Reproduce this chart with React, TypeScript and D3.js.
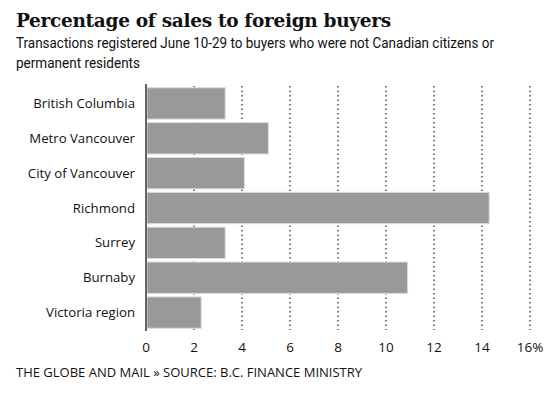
import React from "react";
import * as d3 from "d3";

const categories = [
  "British Columbia",
  "Metro Vancouver",
  "City of Vancouver",
  "Richmond",
  "Surrey",
  "Burnaby",
  "Victoria region",
];
const values = [3.3, 5.1, 4.1, 14.3, 3.3, 10.9, 2.3];
const ticks = [0, 2, 4, 6, 8, 10, 12, 14, 16];

const W = 560;
const H = 398;
const M = { left: 146, right: 30, top: 86, bottom: 70 };

const sans = "'Open Sans', 'Noto Sans', sans-serif";
const narrow = "'Roboto', sans-serif";

export default function App() {
  const x = d3.scaleLinear().domain([0, 16]).range([M.left, 530]);
  const y = d3
    .scaleBand<string>()
    .domain(categories)
    .range([86, 330])
    .paddingInner(0.1)
    .paddingOuter(0.05);

  return (
    <svg
      width={W}
      height={H}
      style={{ position: "absolute", left: 0, top: 0, background: "#fff" }}
    >
      <text
        x={16}
        y={27}
        fontFamily="'DejaVu Serif', serif"
        fontWeight="bold"
        fontSize={18.5}
        fill="#111"
        letterSpacing={-0.3}
      >
        Percentage of sales to foreign buyers
      </text>
      <text
        x={16}
        y={48}
        fontFamily={narrow}
        fontSize={15}
        fill="#111"
        textLength={478}
        lengthAdjust="spacingAndGlyphs"
      >
        Transactions registered June 10-29 to buyers who were not Canadian citizens or
      </text>
      <text
        x={16}
        y={68}
        fontFamily={narrow}
        fontSize={15}
        fill="#111"
        textLength={124}
        lengthAdjust="spacingAndGlyphs"
      >
        permanent residents
      </text>

      {ticks.slice(1).map((t) => (
        <line
          key={"g" + t}
          x1={x(t)}
          x2={x(t)}
          y1={86}
          y2={330}
          stroke="#222"
          strokeWidth={1.2}
          strokeDasharray="1.5,3"
        />
      ))}

      {categories.map((c, i) => (
        <rect
          key={c}
          x={x(0) + 1}
          y={y(c)!}
          width={x(values[i]) - x(0) - 1}
          height={y.bandwidth()}
          fill="#999"
          stroke="#dcdcdc"
          strokeWidth={1}
        />
      ))}

      <line x1={x(0)} x2={x(0)} y1={84} y2={331} stroke="#333" strokeWidth={1.5} />

      {categories.map((c) => (
        <text
          key={"l" + c}
          x={135}
          y={y(c)! + y.bandwidth() / 2}
          dy="0.35em"
          textAnchor="end"
          fontFamily={sans}
          fontSize={13.2}
          fill="#111"
        >
          {c}
        </text>
      ))}

      {ticks.map((t) => (
        <text
          key={"t" + t}
          x={x(t)}
          y={352}
          textAnchor="middle"
          fontFamily={sans}
          fontSize={13.5}
          fill="#111"
        >
          {t === 16 ? "16%" : t}
        </text>
      ))}

      <text x={16} y={377} fontFamily={sans} fontSize={13} fill="#111">
        THE GLOBE AND MAIL » SOURCE: B.C. FINANCE MINISTRY
      </text>
    </svg>
  );
}
